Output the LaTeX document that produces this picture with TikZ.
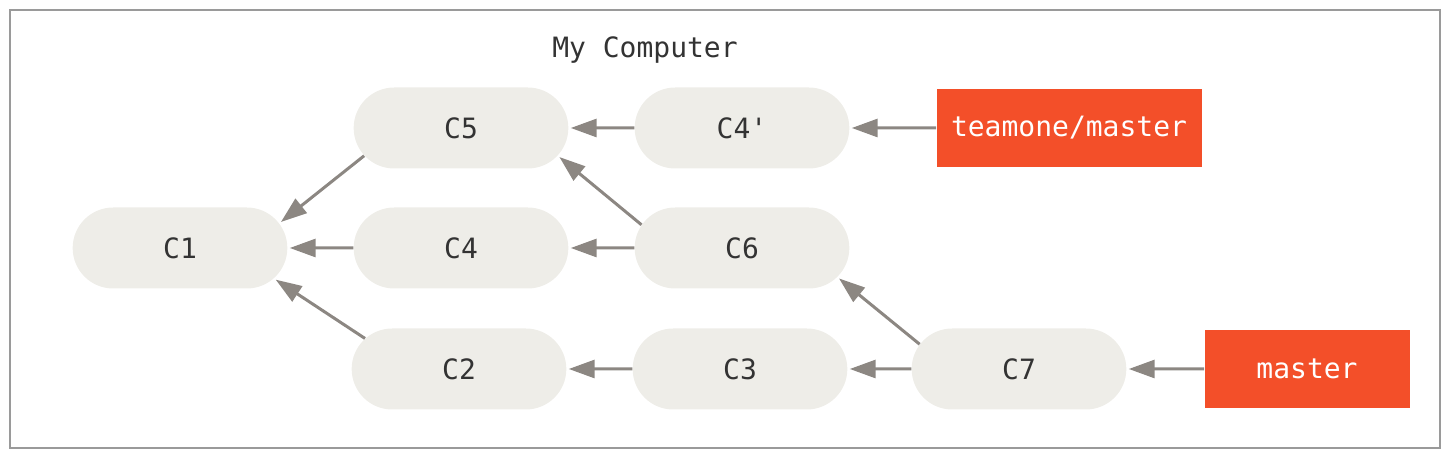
\documentclass[tikz,border=0pt]{standalone}
\usepackage{fontspec}
\setmonofont{DejaVu Sans Mono}
\usetikzlibrary{arrows.meta}
\usetikzlibrary{shapes.misc}

\definecolor{commitfill}{HTML}{EEEDE8}
\definecolor{arrowgray}{HTML}{8C8782}
\definecolor{branchred}{HTML}{F34F29}
\definecolor{textgray}{HTML}{333333}
\definecolor{framegray}{HTML}{9A9A9A}

\begin{document}
\begin{tikzpicture}[x=0.5pt,y=-0.5pt,
  commit/.style={rounded rectangle,fill=commitfill,minimum width=114pt,minimum height=40.5pt,text=textgray,font=\ttfamily\fontsize{14}{15}\selectfont},
  branch/.style={rectangle,fill=branchred,minimum height=39pt,text=white,font=\ttfamily\fontsize{14}{15}\selectfont},
  parent/.style={draw=arrowgray,line width=1.5pt,shorten >=1pt,-{Triangle[length=13pt,width=9pt]}}]
\useasboundingbox (0,0) rectangle (1451,458);
\draw[framegray,line width=1pt] (10,10) rectangle (1440,448);
\node[text=textgray,font=\ttfamily\fontsize{14}{15}\selectfont] (title) at (645,50) {My Computer};

\node[commit] (C1) at (180,248) {C1};
\node[commit] (C5) at (461,128) {C5};
\node[commit] (C4) at (461,248) {C4};
\node[commit] (C2) at (459,369) {C2};
\node[commit] (C4p) at (742,128) {C4'};
\node[commit] (C6) at (742,248) {C6};
\node[commit] (C3) at (740,369) {C3};
\node[commit] (C7) at (1019,369) {C7};
\node[branch,minimum width=132.5pt] (teamone) at (1069,128) {teamone/master};
\node[branch,minimum width=102.5pt] (master) at (1307,369) {master};

% parents
\draw[parent] (C5.196) -- (C1.14);
\draw[parent] (C4) -- (C1);
\draw[parent] (C2.162) -- (C1.342);
\draw[parent] (C4p) -- (C5);
\draw[parent] (C6.167) -- (C5.344);
\draw[parent] (C6) -- (C4);
\draw[parent] (C3) -- (C2);
\draw[parent] (C7) -- (C3);
\draw[parent] (C7.166) -- (C6.343);
% branches
\draw[parent] (teamone) -- (C4p);
\draw[parent] (master) -- (C7);
\end{tikzpicture}
\end{document}
